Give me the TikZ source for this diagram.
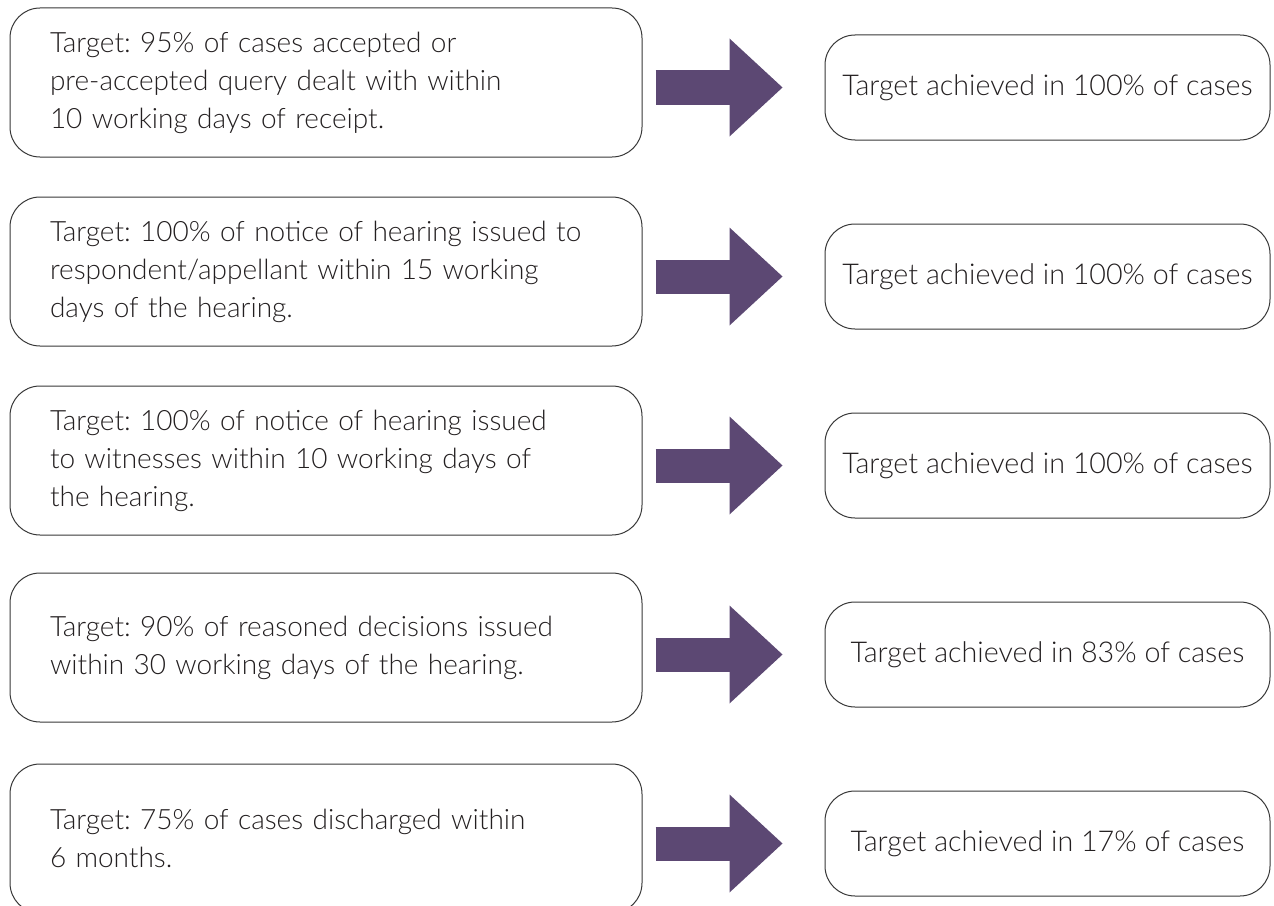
\documentclass[tikz,border=0pt]{standalone}
\usepackage{fontspec}
\setmainfont{Lato}[UprightFont=* Light]
\usetikzlibrary{arrows.meta}
\frenchspacing

\definecolor{arrowpurple}{RGB}{92,72,115}
\definecolor{boxline}{RGB}{55,55,55}
\definecolor{textgray}{RGB}{35,31,32}

\tikzset{
  targetbox/.style={draw=boxline, line width=0.75pt, rounded corners=22.5pt,
    minimum width=474pt, minimum height=111.75pt, text width=414pt,
    inner xsep=30pt, align=left, text=textgray,
    font=\fontsize{21}{28.5}\selectfont},
  resultbox/.style={draw=boxline, line width=0.75pt, rounded corners=22.5pt,
    minimum width=333.75pt, minimum height=78.75pt, align=center,
    text=textgray, font=\fontsize{21.5}{28.5}\selectfont},
  blockarrow/.style={draw=arrowpurple, line width=25.5pt,
    -{Triangle[length=39.75pt,width=73.5pt,line width=0pt]},
    shorten <=9.75pt, shorten >=31.5pt}
}

\begin{document}
\begin{tikzpicture}[x=0.75pt,y=0.75pt,yscale=-1,xscale=1]
\clip (0,0) rectangle (1274,906);
\useasboundingbox (0,0) rectangle (1274,906);

% Target boxes
\node [targetbox] (target1) at (326,82.5) {Target: 95\% of cases accepted or\\pre-accepted query dealt with within\\10 working days of receipt.};
\node [targetbox] (target2) at (326,271.5) {Target: 100\% of notice of hearing issued to\\respondent/appellant within 15 working\\days of the hearing.};
\node [targetbox] (target3) at (326,460.5) {Target: 100\% of notice of hearing issued\\to witnesses within 10 working days of\\the hearing.};
\node [targetbox] (target4) at (326,647.5) {Target: 90\% of reasoned decisions issued\\within 30 working days of the hearing.};
\node [targetbox] (target5) at (326,838.5) {Target: 75\% of cases discharged within\\6 months.};

% Result boxes
\node [resultbox] (result1) at (1047.5,87.5) {Target achieved in 100\% of cases};
\node [resultbox] (result2) at (1047.5,276.5) {Target achieved in 100\% of cases};
\node [resultbox] (result3) at (1047.5,465.5) {Target achieved in 100\% of cases};
\node [resultbox] (result4) at (1047.5,654.5) {Target achieved in 83\% of cases};
\node [resultbox] (result5) at (1047.5,843.5) {Target achieved in 17\% of cases};

% Arrows
\draw [blockarrow] (target1.east |- result1.west) -- (result1.west);
\draw [blockarrow] (target2.east |- result2.west) -- (result2.west);
\draw [blockarrow] (target3.east |- result3.west) -- (result3.west);
\draw [blockarrow] (target4.east |- result4.west) -- (result4.west);
\draw [blockarrow] (target5.east |- result5.west) -- (result5.west);

\end{tikzpicture}
\end{document}
